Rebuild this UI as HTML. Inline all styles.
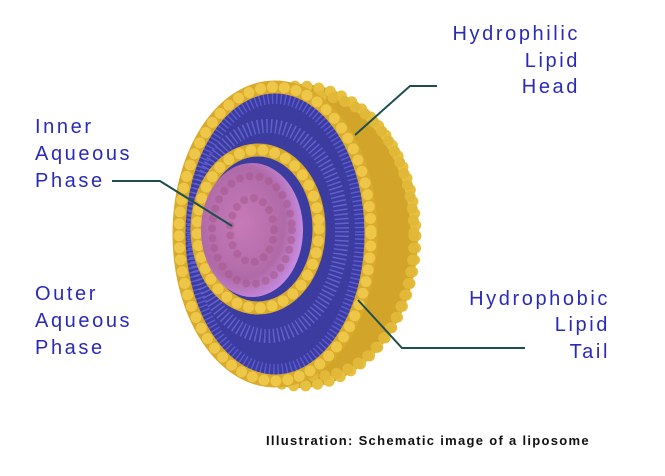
<!DOCTYPE html>
<html><head><style>
html,body{margin:0;padding:0;background:#fff;}
svg{display:block;}
.t{font-family:"Liberation Sans",sans-serif;font-size:20px;fill:#2a2ab8;letter-spacing:2.6px;}
</style></head><body>
<svg width="665" height="476" viewBox="0 0 665 476" xmlns="http://www.w3.org/2000/svg">
<defs>
<radialGradient id="pk" cx="0.4" cy="0.45" r="0.6">
<stop offset="0" stop-color="#c87ab8"/><stop offset="0.7" stop-color="#b06aa8"/><stop offset="1" stop-color="#c58be0"/>
</radialGradient>
</defs>
<ellipse cx="300" cy="236" rx="118" ry="152" fill="#d2a52a"/>
<ellipse cx="300" cy="236" rx="116" ry="150" fill="none" stroke="#e8c040" stroke-width="11" stroke-dasharray="0 12" stroke-linecap="round"/>
<ellipse cx="318" cy="236" rx="96" ry="140" fill="none" stroke="#e2b838" stroke-width="11" stroke-dasharray="0 12" stroke-linecap="round"/>
<ellipse cx="275" cy="234" rx="102" ry="153" fill="#3c3ca0"/>
<ellipse cx="275" cy="234" rx="88" ry="138" fill="none" stroke="#5a5ad0" stroke-width="16" stroke-dasharray="1.5 3"/>
<ellipse cx="268" cy="231" rx="74" ry="105" fill="none" stroke="#6060cc" stroke-width="14" stroke-dasharray="1.5 3"/>
<ellipse cx="275" cy="234" rx="96" ry="147" fill="none" stroke="#d8ab2c" stroke-width="13"/>
<ellipse cx="275" cy="234" rx="96" ry="147" fill="none" stroke="#eec648" stroke-width="11" stroke-dasharray="0 12" stroke-linecap="round"/>
<ellipse cx="258" cy="229" rx="61" ry="79" fill="none" stroke="#d8ab2c" stroke-width="13"/>
<ellipse cx="258" cy="229" rx="61" ry="79" fill="none" stroke="#eec648" stroke-width="11" stroke-dasharray="0 12" stroke-linecap="round"/>
<ellipse cx="252" cy="230" rx="51" ry="67" fill="url(#pk)"/>
<ellipse cx="252" cy="230" rx="40" ry="54" fill="none" stroke="#a85a90" stroke-width="8" stroke-dasharray="0 10" stroke-linecap="round" opacity="0.6"/>
<ellipse cx="252" cy="230" rx="22" ry="32" fill="none" stroke="#a85a90" stroke-width="8" stroke-dasharray="0 10" stroke-linecap="round" opacity="0.6"/>
<g stroke="#1e4f4f" stroke-width="2" fill="none">
<polyline points="437,86 410,86 355,135"/>
<polyline points="112,181 160,181 232,226"/>
<polyline points="358,300 402,348 525,348"/>
</g>
<g class="t" text-anchor="end">
<text x="580" y="40">Hydrophilic</text>
<text x="580" y="67">Lipid</text>
<text x="580" y="93">Head</text>
<text x="610" y="305">Hydrophobic</text>
<text x="610" y="331">Lipid</text>
<text x="610" y="358">Tail</text>
</g>
<g class="t">
<text x="35" y="133">Inner</text>
<text x="35" y="160">Aqueous</text>
<text x="35" y="187">Phase</text>
<text x="35" y="300">Outer</text>
<text x="35" y="327">Aqueous</text>
<text x="35" y="354">Phase</text>
</g>
<text x="266" y="445" font-family="Liberation Sans,sans-serif" font-size="13" font-weight="bold" fill="#111" letter-spacing="1.3">Illustration: Schematic image of a liposome</text>
</svg>
</body></html>
